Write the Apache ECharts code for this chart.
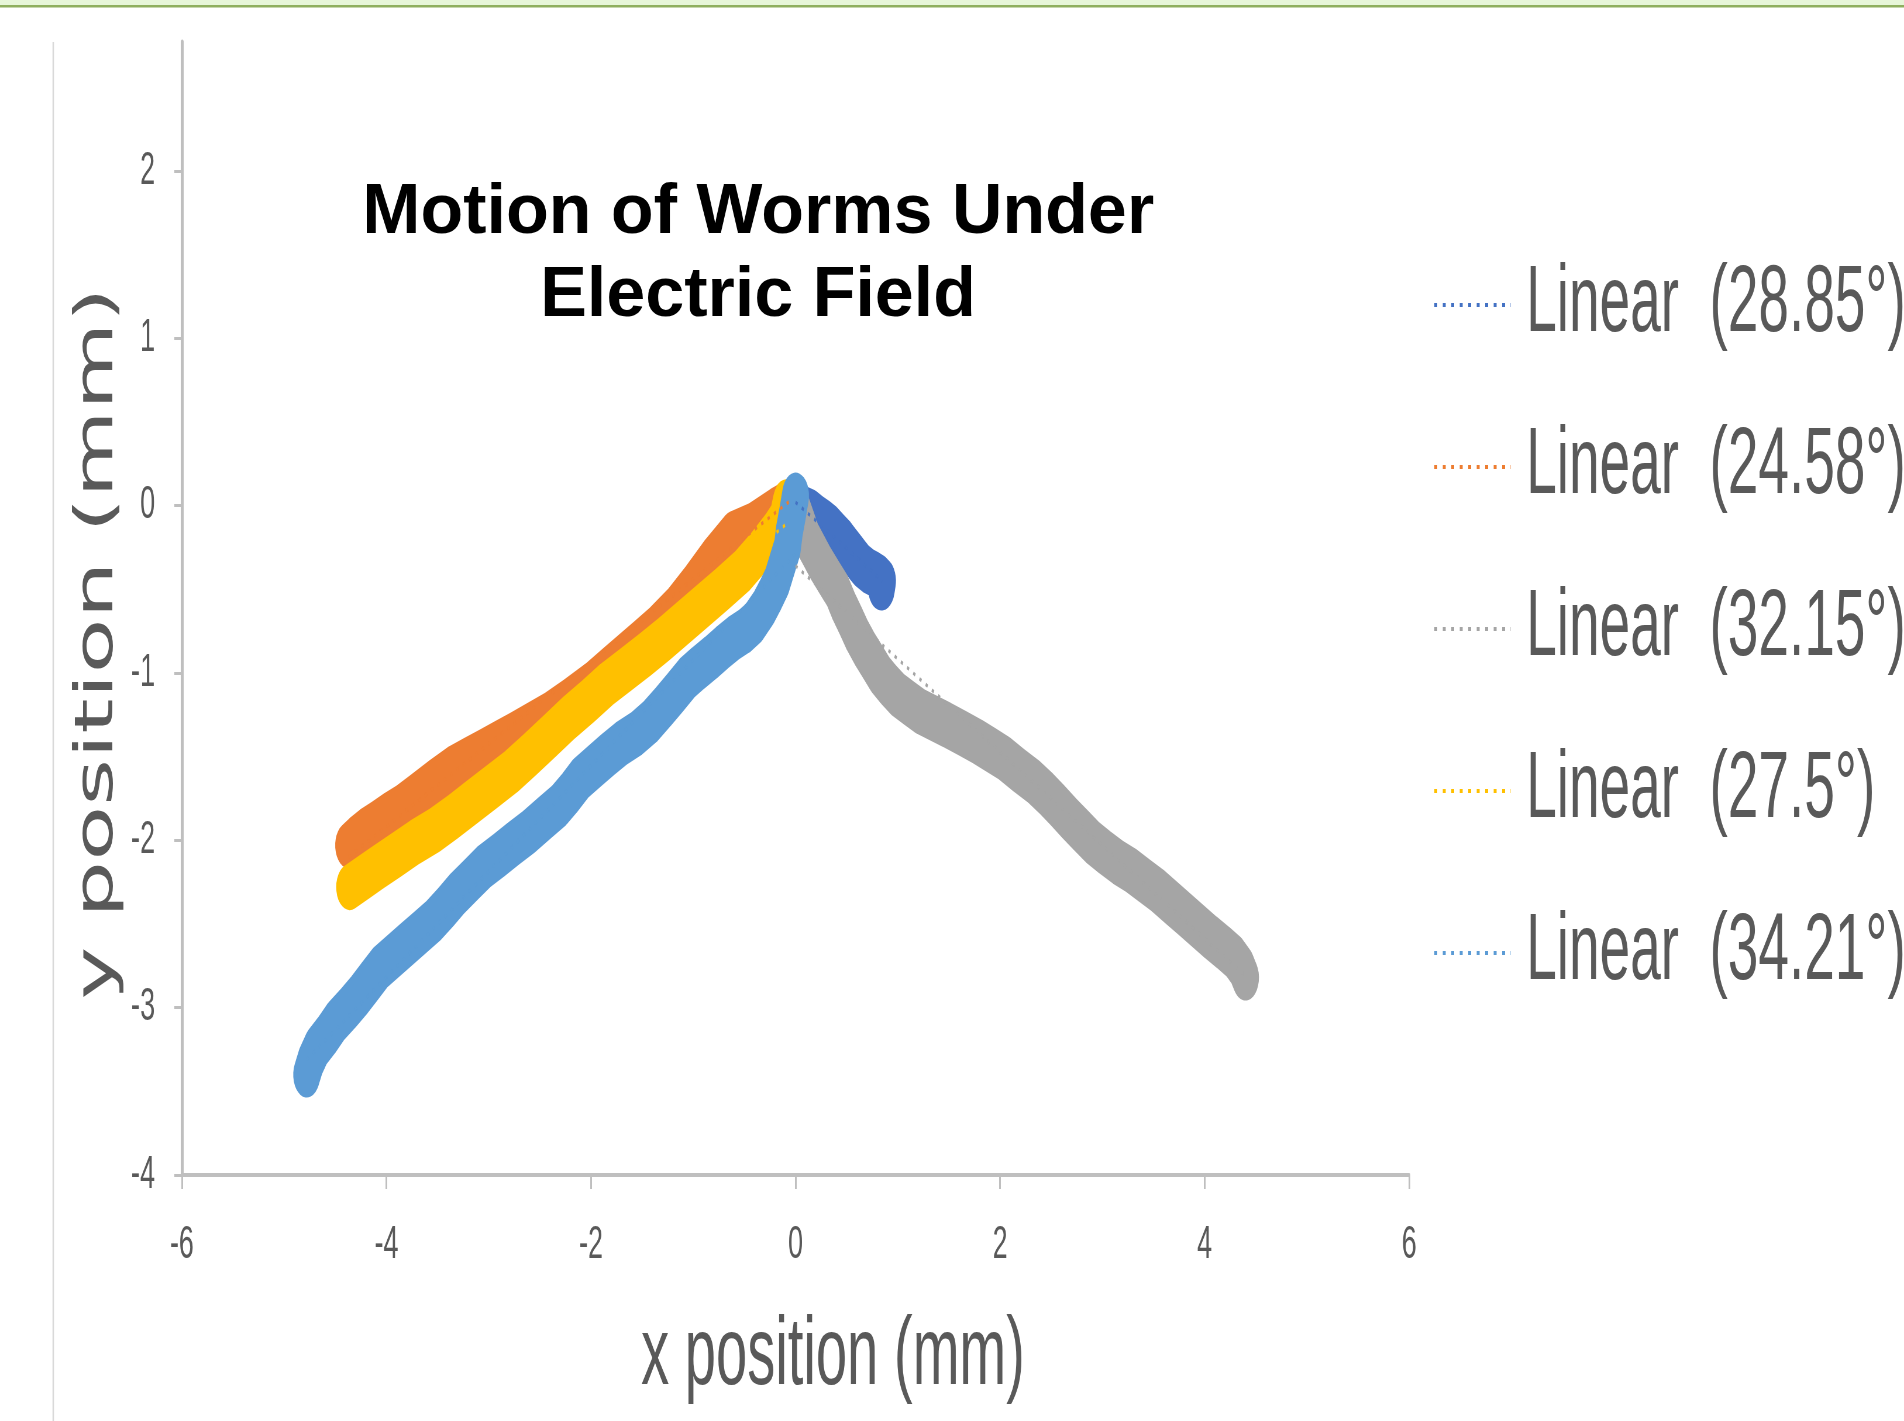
<!DOCTYPE html>
<html>
<head>
<meta charset="utf-8">
<script src="https://cdn.jsdelivr.net/npm/echarts@6/dist/echarts.min.js"></script>
<style>
html, body { margin: 0; padding: 0; background: #ffffff; overflow: hidden; width: 1904px; height: 1421px; }
/* the original Excel picture is horizontally compressed; draw wide, then squeeze */
#chart { position: absolute; left: 0; top: 0; width: 3255px; height: 1421px; transform: scaleX(0.58495); transform-origin: 0 0; }
</style>
</head>
<body>
<div id="chart"></div>
<script>
const SQUISH = 1904 / 3255;

const chartTitle = 'Motion of Worms Under\nElectric Field';
const xAxisTitle = 'x position (mm)';
const yAxisTitle = 'y position (mm)';
const yTickValues = [-4, -3, -2, -1, 0, 1, 2];
const seriesNames = ['28.85°', '24.58°', '32.15°', '27.5°', '34.21°'];
const seriesColors = ['#4472C4', '#ED7D31', '#A5A5A5', '#FFC000', '#5B9BD5'];

// worm tracks (x, y in mm)
const worm2885 = [[0.00,0.00],[0.08,-0.02],[0.15,-0.04],[0.21,-0.07],[0.28,-0.10],[0.34,-0.13],[0.40,-0.17],[0.46,-0.21],[0.51,-0.25],[0.56,-0.29],[0.61,-0.33],[0.65,-0.36],[0.71,-0.39],[0.77,-0.41],[0.82,-0.43],[0.85,-0.45],[0.84,-0.49]];
const worm2458 = [[-0.06,0.02],[-0.20,-0.03],[-0.42,-0.12],[-0.61,-0.17],[-0.80,-0.31],[-0.99,-0.47],[-1.17,-0.61],[-1.36,-0.73],[-1.51,-0.81],[-1.66,-0.89],[-1.83,-0.98],[-2.00,-1.07],[-2.22,-1.17],[-2.41,-1.25],[-2.58,-1.31],[-2.75,-1.37],[-2.90,-1.42],[-3.05,-1.47],[-3.20,-1.52],[-3.35,-1.57],[-3.53,-1.65],[-3.72,-1.74],[-3.85,-1.80],[-3.98,-1.85],[-4.10,-1.90],[-4.20,-1.94],[-4.30,-1.99],[-4.37,-2.03]];
const worm3215 = [[0.02,-0.03],[0.06,-0.10],[0.11,-0.19],[0.18,-0.27],[0.25,-0.35],[0.33,-0.43],[0.41,-0.51],[0.47,-0.60],[0.54,-0.69],[0.60,-0.77],[0.67,-0.85],[0.75,-0.93],[0.83,-1.01],[0.91,-1.07],[1.00,-1.13],[1.11,-1.18],[1.22,-1.23],[1.35,-1.27],[1.48,-1.31],[1.63,-1.36],[1.78,-1.41],[1.91,-1.46],[2.04,-1.51],[2.18,-1.58],[2.33,-1.65],[2.45,-1.72],[2.56,-1.79],[2.68,-1.87],[2.79,-1.94],[2.90,-2.01],[3.02,-2.07],[3.15,-2.13],[3.28,-2.18],[3.41,-2.24],[3.54,-2.30],[3.67,-2.37],[3.80,-2.44],[3.93,-2.51],[4.06,-2.58],[4.18,-2.64],[4.29,-2.70],[4.36,-2.76],[4.40,-2.82]];
const worm275 = [[-0.09,0.02],[-0.125,-0.08],[-0.20,-0.15],[-0.35,-0.27],[-0.52,-0.39],[-0.72,-0.50],[-0.91,-0.60],[-1.10,-0.70],[-1.29,-0.80],[-1.47,-0.89],[-1.66,-0.98],[-1.85,-1.07],[-2.03,-1.17],[-2.22,-1.27],[-2.41,-1.38],[-2.60,-1.49],[-2.78,-1.59],[-2.97,-1.68],[-3.16,-1.77],[-3.35,-1.86],[-3.53,-1.94],[-3.72,-2.01],[-3.91,-2.09],[-4.08,-2.16],[-4.22,-2.22],[-4.36,-2.28]];
const worm3421 = [[0.00,0.06],[-0.03,-0.05],[-0.06,-0.15],[-0.08,-0.25],[-0.13,-0.35],[-0.18,-0.45],[-0.25,-0.54],[-0.31,-0.61],[-0.41,-0.70],[-0.50,-0.75],[-0.60,-0.79],[-0.72,-0.85],[-0.83,-0.91],[-0.95,-0.97],[-1.06,-1.03],[-1.18,-1.12],[-1.29,-1.20],[-1.42,-1.29],[-1.55,-1.36],[-1.70,-1.42],[-1.84,-1.49],[-1.97,-1.56],[-2.10,-1.63],[-2.20,-1.71],[-2.31,-1.79],[-2.46,-1.87],[-2.61,-1.95],[-2.76,-2.02],[-2.90,-2.09],[-3.05,-2.16],[-3.18,-2.24],[-3.31,-2.32],[-3.42,-2.40],[-3.54,-2.48],[-3.67,-2.55],[-3.80,-2.62],[-3.93,-2.69],[-4.06,-2.76],[-4.16,-2.84],[-4.26,-2.92],[-4.37,-3.00],[-4.49,-3.08],[-4.58,-3.16],[-4.68,-3.24],[-4.74,-3.32],[-4.78,-3.40]];

// linear trendline end points
const trend2885 = [[0.00,0.02],[0.85,-0.45]];
const trend2458 = [[-4.37,-2.10],[-0.05,0.03]];
const trend3215 = [[0.00,-0.36],[4.40,-2.81]];
const trend275  = [[-4.36,-2.34],[-0.09,-0.11]];
const trend3421 = [[-4.78,-3.31],[0.00,-0.29]];

const worms = [worm2885, worm2458, worm3215, worm275, worm3421];
const trends = [trend2885, trend2458, trend3215, trend275, trend3421];
const legendNames = seriesNames.map(n => 'Linear  (' + n + ')');

const FONT = "'Liberation Sans', Arial, sans-serif";
const series = [];
worms.forEach((d, i) => {
  series.push({
    name: seriesNames[i], type: 'line', data: d, symbol: 'none', showSymbol: false,
    silent: true, z: 2 + i,
    lineStyle: { width: 46, color: seriesColors[i], cap: 'round', join: 'round' }
  });
});
trends.forEach((d, i) => {
  series.push({
    name: legendNames[i], type: 'line', data: d, symbol: 'none', showSymbol: false,
    silent: true, z: 20,
    itemStyle: { color: seriesColors[i] },
    lineStyle: { width: 3.5, color: seriesColors[i], type: [4, 8] }
  });
});

const chart = echarts.init(document.getElementById('chart'), null, { renderer: 'canvas' });
chart.setOption({
  animation: false,
  backgroundColor: '#ffffff',
  grid: { left: 311, right: 846, top: 42, bottom: 246, containLabel: false, outerBoundsMode: 'none' },
  xAxis: {
    type: 'value', min: -6, max: 6, interval: 2,
    name: xAxisTitle, nameLocation: 'middle', nameGap: 135,
    nameTextStyle: { fontSize: 96, color: '#595959', fontFamily: FONT, padding: [0, 0, 0, 128] },
    axisLine: { show: true, onZero: false, lineStyle: { color: '#BFBFBF', width: 4 } },
    axisTick: { show: true, inside: false, length: 14, lineStyle: { color: '#BFBFBF', width: 3 } },
    axisLabel: { margin: 47, fontSize: 46, color: '#595959', fontFamily: FONT },
    splitLine: { show: false }
  },
  yAxis: {
    type: 'value', min: -4, max: 2.77,
    name: yAxisTitle, nameLocation: 'middle', nameGap: 95, nameRotate: 90,
    nameTextStyle: { fontSize: 90, color: '#595959', fontFamily: "'DejaVu Sans', sans-serif", padding: [0, 70, 0, 0] },
    axisLine: { show: true, onZero: false, lineStyle: { color: '#BFBFBF', width: 5 } },
    axisTick: { show: true, inside: false, length: 13, customValues: yTickValues, lineStyle: { color: '#BFBFBF', width: 3 } },
    axisLabel: { margin: 46, fontSize: 46, color: '#595959', fontFamily: FONT, customValues: yTickValues },
    splitLine: { show: false }
  },
  legend: {
    data: legendNames, orient: 'vertical', left: 2445, top: 237,
    itemWidth: 131, itemHeight: 20, itemGap: 36, selectedMode: false,
    lineStyle: { width: 4, type: [5, 9.5] },
    itemStyle: { color: 'rgba(0,0,0,0)', borderWidth: 0, opacity: 0 },
    textStyle: { fontSize: 94, lineHeight: 94, color: '#595959', fontFamily: FONT, padding: [32, 0, 0, 21] }
  },
  graphic: [
    { type: 'rect', shape: { x: 0, y: 0, width: 3255, height: 5 }, style: { fill: '#E7F6D9' }, silent: true },
    { type: 'rect', shape: { x: 0, y: 5, width: 3255, height: 2.5 }, style: { fill: '#8FAF5F' }, silent: true },
    { type: 'line', shape: { x1: 91, y1: 42, x2: 91, y2: 1421 }, style: { stroke: '#D9D9D9', lineWidth: 2.5 }, silent: true },
    {
      type: 'text', x: 1296, y: 172, scaleX: 1 / SQUISH, z: 100, silent: true,
      style: { text: chartTitle, fontSize: 70, fontWeight: 'bold', fontFamily: FONT, fill: '#000000', align: 'center', verticalAlign: 'top', lineHeight: 83 }
    }
  ],
  series: series
});
</script>
</body>
</html>
